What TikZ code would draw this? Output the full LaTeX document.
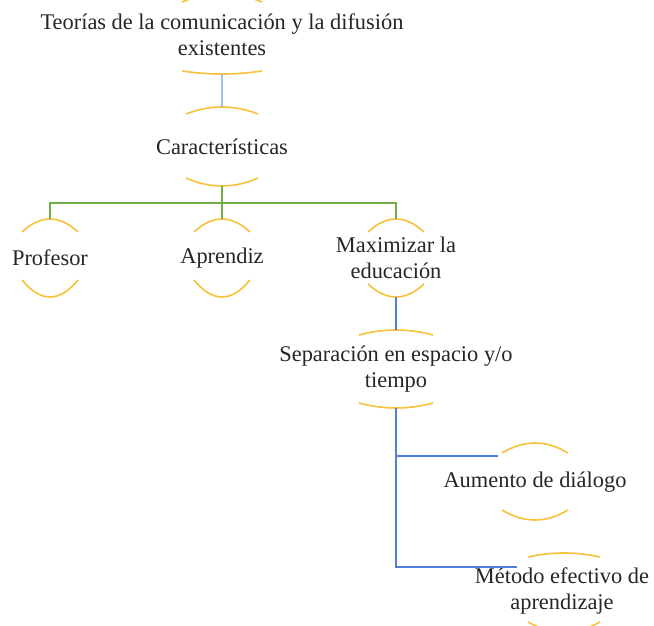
\documentclass[tikz,border=0pt]{standalone}
\usepackage{fontspec}
\setmainfont{Liberation Serif}
\definecolor{gold}{HTML}{F7C13A}
\definecolor{lblue}{HTML}{9DC3E6}
\definecolor{lgreen}{HTML}{70AD47}
\definecolor{mblue}{HTML}{4F7FD8}
\tikzset{
  goldarc/.style={draw=gold, line width=1.6pt},
  lbl/.style={font=\fontsize{22.4}{26}\selectfont, align=center, inner sep=0pt, text=black!85},
  conA/.style={draw=lblue, line width=1.6pt},
  conG/.style={draw=lgreen, line width=1.6pt},
  conB/.style={draw=mblue, line width=1.6pt}
}
% #1 name, #2 cx, #3 half width, #4 top end y, #5 top peak y, #6 bottom end y, #7 bottom y
\newcommand{\myarcs}[7]{%
  \coordinate (#1-t) at (#2,#5);
  \coordinate (#1-b) at (#2,#7);
  \draw[goldarc] (#2-#3,#4) .. controls ({#2-#3/3},{#4+4/3*(#5-#4)}) and ({#2+#3/3},{#4+4/3*(#5-#4)}) .. (#2+#3,#4);
  \draw[goldarc] (#2-#3,#6) .. controls ({#2-#3/3},{#6+4/3*(#7-#6)}) and ({#2+#3/3},{#6+4/3*(#7-#6)}) .. (#2+#3,#6);
}
\begin{document}
\begin{tikzpicture}[x=1pt,y=-1pt]
\useasboundingbox (0,0) rectangle (654,626);
\clip (0,0) rectangle (654,626);
\fill[white] (0,0) rectangle (654,626);

% shapes (arcs)
\myarcs{root}{222}{40}{2}{-6}{71}{74}
\myarcs{car}{222}{36}{114}{107}{178}{186}
\myarcs{pro}{50}{28}{232}{219}{280}{297}
\myarcs{apr}{222}{28}{232}{219}{280}{297}
\myarcs{max}{396}{28}{232}{219}{284}{297}
\myarcs{sep}{396}{37}{335}{330}{403}{408}
\myarcs{aum}{535}{33}{453}{443}{510}{520}
\myarcs{met}{564}{36}{557}{553}{622}{632}

% texts
\node[lbl] (root) at (222,35) {Teorías de la comunicación y la difusión\\existentes};
\node[lbl] (car) at (222,147) {Características};
\node[lbl] (pro) at (50,258) {Profesor};
\node[lbl] (apr) at (222,258) {Aprendiz};
\node[lbl] (max) at (396,258) {Maximizar la\\educación};
\node[lbl] (sep) at (396,369) {Separación en espacio y/o\\tiempo};
\node[lbl] (aum) at (535,482) {Aumento de diálogo};
\node[lbl] (met) at (562,591) {Método efectivo de\\aprendizaje};

% connectors
\draw[conA] (root-b) -- (car-t);
\coordinate (bus) at (222,203);
\draw[conG] (car-b) -- (bus);
\draw[conG] (bus) -| (pro-t);
\draw[conG] (bus) -| (max-t);
\draw[conG] (bus) -- (apr-t);
\draw[conB] (max-b) -- (sep-t);
\coordinate (aumin) at (498,456);
\coordinate (metin) at (517,567);
\draw[conB] (sep-b) |- (aumin);
\draw[conB] (sep-b) |- (metin);
\end{tikzpicture}
\end{document}
